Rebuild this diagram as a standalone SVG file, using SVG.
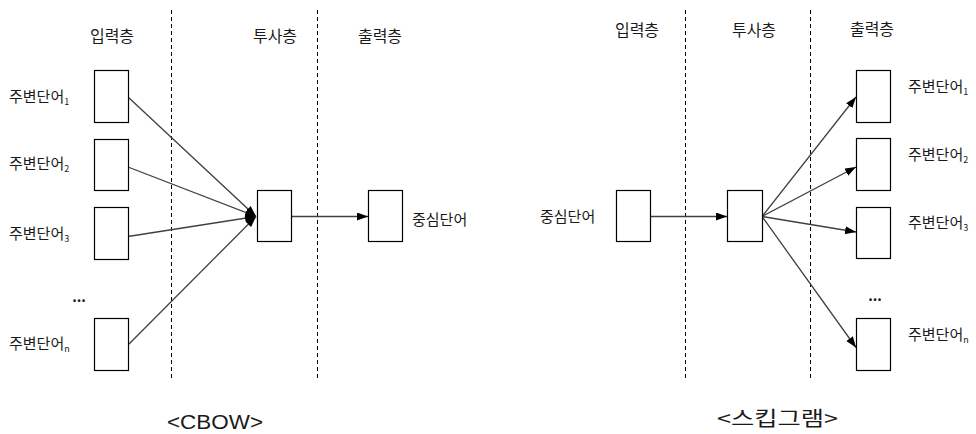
<svg xmlns="http://www.w3.org/2000/svg" width="976" height="434" viewBox="0 0 976 434">
<style>
  text { font-family: "Noto Sans CJK KR", "Noto Sans", sans-serif; fill: #1a1a1a; }
  .hdr { font-size: 16px; }
  .lbl { font-size: 15px; }
  .sub { font-size: 9px; }
  .dots { font-size: 14px; font-weight: bold; }
  .title { font-size: 20px; }
  .latin { font-family: "Liberation Sans", Arial, sans-serif; }
  .box { fill: #ffffff; stroke: #000000; stroke-width: 1.2; }
  .dash { stroke: #000000; stroke-width: 1; stroke-dasharray: 4 3; fill: none; }
  .conn { stroke: #404040; stroke-width: 1.3; fill: none; }
</style>
<defs>
  <marker id="arr" markerUnits="userSpaceOnUse" markerWidth="12" markerHeight="10" refX="11" refY="4" orient="auto">
    <path d="M0,0 L11,4 L0,8 Z" fill="#000000"/>
  </marker>
</defs>
<rect width="976" height="434" fill="#ffffff"/>

<g id="dividers">
  <line class="dash" x1="171.5" y1="10" x2="171.5" y2="379"/>
  <line class="dash" x1="317.5" y1="10" x2="317.5" y2="379"/>
  <line class="dash" x1="685.5" y1="10" x2="685.5" y2="380"/>
  <line class="dash" x1="810.5" y1="10" x2="810.5" y2="380"/>
</g>

<g id="headers">
  <text class="hdr" x="112" y="42" text-anchor="middle">입력층</text>
  <text class="hdr" x="275" y="42" text-anchor="middle">투사층</text>
  <text class="hdr" x="380" y="42" text-anchor="middle">출력층</text>
  <text class="hdr" x="637" y="36" text-anchor="middle">입력층</text>
  <text class="hdr" x="754" y="36" text-anchor="middle">투사층</text>
  <text class="hdr" x="872" y="35" text-anchor="middle">출력층</text>
</g>

<g id="connectors">
  <line class="conn" x1="128" y1="97" x2="256" y2="216.5" marker-end="url(#arr)"/>
  <line class="conn" x1="128" y1="167" x2="256" y2="216.5" marker-end="url(#arr)"/>
  <line class="conn" x1="128" y1="236.5" x2="256" y2="216.5" marker-end="url(#arr)"/>
  <line class="conn" x1="128" y1="345" x2="256" y2="216.5" marker-end="url(#arr)"/>
  <line class="conn" x1="292" y1="216.5" x2="368" y2="216.5" marker-end="url(#arr)"/>
  <line class="conn" x1="650" y1="216.5" x2="727" y2="216.5" marker-end="url(#arr)"/>
  <line class="conn" x1="762" y1="216.5" x2="856" y2="97" marker-end="url(#arr)"/>
  <line class="conn" x1="762" y1="216.5" x2="856" y2="167" marker-end="url(#arr)"/>
  <line class="conn" x1="762" y1="216.5" x2="856" y2="232" marker-end="url(#arr)"/>
  <line class="conn" x1="762" y1="216.5" x2="856" y2="347.5" marker-end="url(#arr)"/>
</g>

<g id="cbow-in1"><rect class="box" x="94.5" y="70.5" width="34" height="52"/><text class="lbl" x="9" y="102">주변단어<tspan class="sub" dy="3">1</tspan></text></g>
<g id="cbow-in2"><rect class="box" x="94.5" y="139.5" width="34" height="51"/><text class="lbl" x="9" y="168.5">주변단어<tspan class="sub" dy="3">2</tspan></text></g>
<g id="cbow-in3"><rect class="box" x="94.5" y="207.5" width="34" height="52"/><text class="lbl" x="9" y="239">주변단어<tspan class="sub" dy="3">3</tspan></text></g>
<g id="cbow-dots"><text class="dots" x="79" y="302" text-anchor="middle">...</text></g>
<g id="cbow-inn"><rect class="box" x="94.5" y="318.5" width="34" height="52"/><text class="lbl" x="9" y="349">주변단어<tspan class="sub" dy="3">n</tspan></text></g>
<g id="cbow-proj"><rect class="box" x="257.5" y="190.5" width="34" height="51"/></g>
<g id="cbow-out"><rect class="box" x="368.5" y="190.5" width="34" height="51"/><text class="lbl" x="412" y="224.5">중심단어</text></g>

<g id="sg-in"><rect class="box" x="616.5" y="190.5" width="34" height="51"/><text class="lbl" x="540" y="221.5">중심단어</text></g>
<g id="sg-proj"><rect class="box" x="727.5" y="190.5" width="35" height="51"/></g>
<g id="sg-out1"><rect class="box" x="856.5" y="70.5" width="34" height="52"/><text class="lbl" x="908" y="91.5">주변단어<tspan class="sub" dy="3">1</tspan></text></g>
<g id="sg-out2"><rect class="box" x="856.5" y="138.5" width="34" height="52"/><text class="lbl" x="908" y="160">주변단어<tspan class="sub" dy="3">2</tspan></text></g>
<g id="sg-out3"><rect class="box" x="856.5" y="207.5" width="34" height="51"/><text class="lbl" x="908" y="228">주변단어<tspan class="sub" dy="3">3</tspan></text></g>
<g id="sg-dots"><text class="dots" x="875" y="301" text-anchor="middle">...</text></g>
<g id="sg-outn"><rect class="box" x="856.5" y="318.5" width="34" height="52"/><text class="lbl" x="908" y="340">주변단어<tspan class="sub" dy="3">n</tspan></text></g>

<g id="titles">
  <text class="title latin" x="167" y="429" textLength="96" lengthAdjust="spacingAndGlyphs">&lt;CBOW&gt;</text>
  <text class="title" x="717" y="426" textLength="121" lengthAdjust="spacingAndGlyphs">&lt;스킵그램&gt;</text>
</g>
</svg>
